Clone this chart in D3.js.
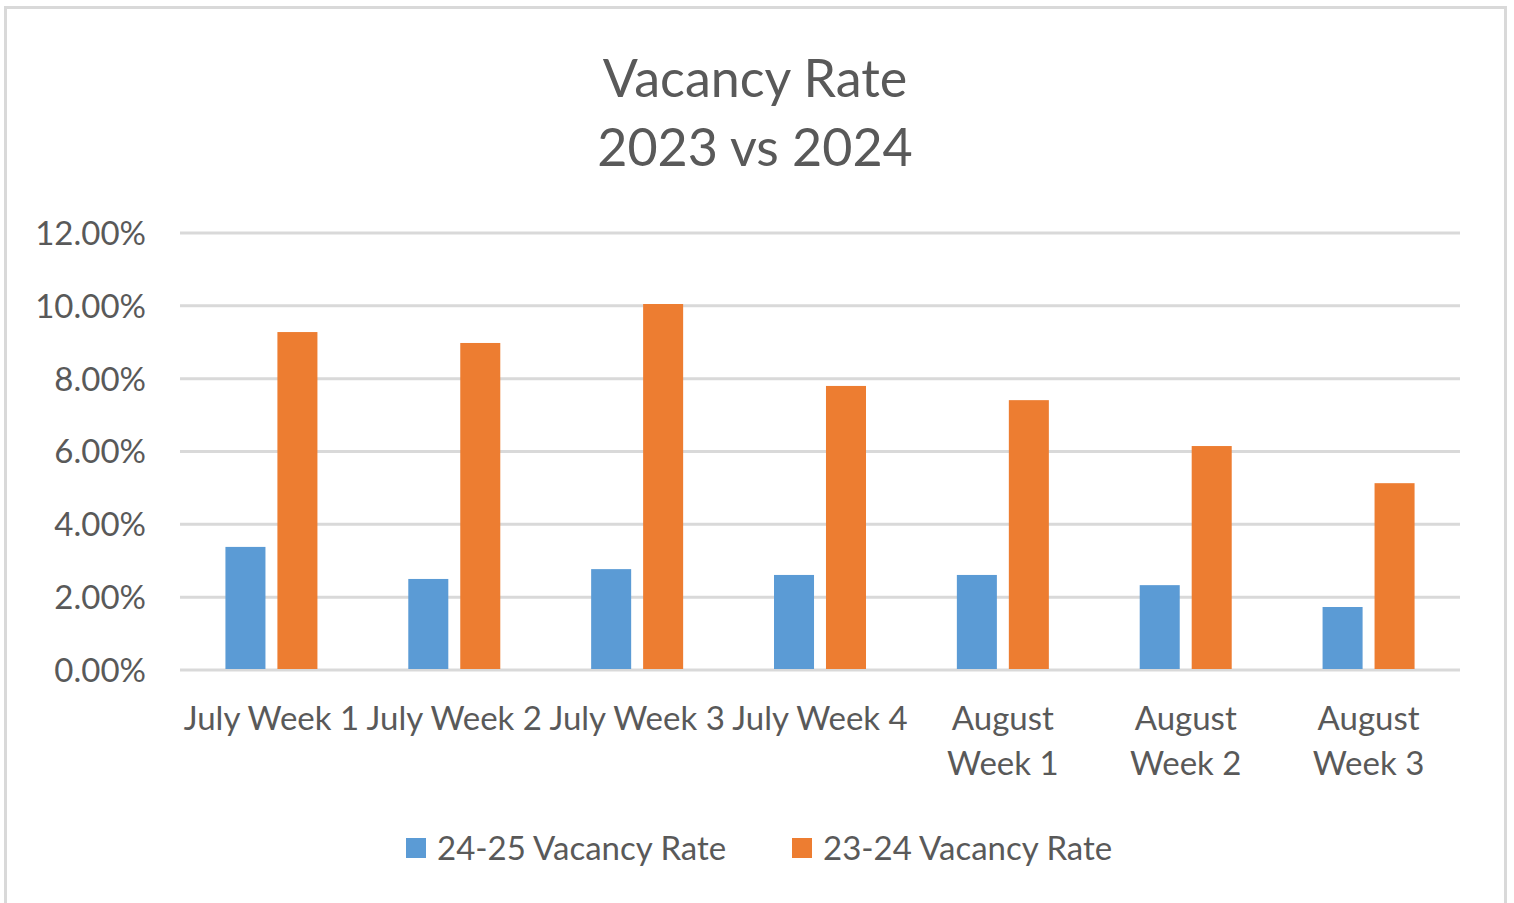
<!DOCTYPE html>
<html>
<head>
<meta charset="utf-8">
<script src="https://cdn.jsdelivr.net/npm/d3@7"></script>
<style>
  html, body { margin: 0; padding: 0; background: #fff; }
  svg { display: block; font-family: Lato, "Open Sans", sans-serif; }
</style>
</head>
<body>
<svg id="chart" width="1514" height="903"></svg>
<script>
// chart data
const categories = ["July Week 1", "July Week 2", "July Week 3", "July Week 4",
                    "August Week 1", "August Week 2", "August Week 3"];
const seriesNames = ["24-25 Vacancy Rate", "23-24 Vacancy Rate"];
const rate2425 = [0.0338, 0.0250, 0.0277, 0.0261, 0.0261, 0.0233, 0.0173];
const rate2324 = [0.0928, 0.0898, 0.1005, 0.0780, 0.0741, 0.0615, 0.0513];
const yTicks = [0, 0.02, 0.04, 0.06, 0.08, 0.10, 0.12];
const colors = ["#5b9bd5", "#ed7d31"];

const svg = d3.select("#chart");
const textColor = "#595959";

// outer chart border
svg.append("rect")
    .attr("x", 5.5).attr("y", 7.5)
    .attr("width", 1500).attr("height", 905)
    .attr("fill", "#fff")
    .attr("stroke", "#d9d9d9")
    .attr("stroke-width", 3);

// title
const title = svg.append("text")
    .attr("text-anchor", "middle")
    .attr("fill", textColor)
    .style("font-size", "52px");
title.append("tspan").attr("x", 755).attr("y", 97).text("Vacancy Rate");
title.append("tspan").attr("x", 755).attr("y", 166).text("2023 vs 2024");

const plot = { left: 180, right: 1460, top: 233, bottom: 670 };

const x0 = d3.scaleBand()
    .domain(categories)
    .range([plot.left, plot.right])
    .padding(0);

const x1 = d3.scaleBand()
    .domain(seriesNames)
    .range([x0.bandwidth() / 2 - 46, x0.bandwidth() / 2 + 46])
    .paddingInner(0.23);

const y = d3.scaleLinear()
    .domain([0, 0.12])
    .range([plot.bottom, plot.top]);

// gridlines
svg.append("g")
    .selectAll("line")
    .data(yTicks)
    .join("line")
    .attr("x1", plot.left).attr("x2", plot.right)
    .attr("y1", d => y(d)).attr("y2", d => y(d))
    .attr("stroke", "#d9d9d9")
    .attr("stroke-width", 3);

// y axis labels
svg.append("g")
    .selectAll("text")
    .data(yTicks)
    .join("text")
    .attr("x", 146)
    .attr("y", d => y(d))
    .attr("dy", "0.36em")
    .attr("text-anchor", "end")
    .attr("fill", textColor)
    .style("font-size", "33px")
    .text(d3.format(".2%"));

// bars
const rows = categories.map((c, i) => ({
    cat: c,
    values: [
        { key: seriesNames[0], value: rate2425[i] },
        { key: seriesNames[1], value: rate2324[i] }
    ]
}));

const color = d3.scaleOrdinal().domain(seriesNames).range(colors);

svg.append("g")
    .selectAll("g")
    .data(rows)
    .join("g")
    .attr("transform", d => `translate(${x0(d.cat)},0)`)
    .selectAll("rect")
    .data(d => d.values)
    .join("rect")
    .attr("x", d => x1(d.key))
    .attr("width", x1.bandwidth())
    .attr("y", d => y(d.value))
    .attr("height", d => y(0) - y(d.value) - 1)
    .attr("fill", d => color(d.key));

// x axis labels (long ones wrap to two lines, like the original)
const xLabels = svg.append("g")
    .selectAll("text")
    .data(categories)
    .join("text")
    .attr("text-anchor", "middle")
    .attr("fill", textColor)
    .style("font-size", "33px");

xLabels.each(function (d) {
    const t = d3.select(this);
    const cx = x0(d) + x0.bandwidth() / 2;
    if (d.length > 11) {
        const cut = d.lastIndexOf(" Week");
        t.append("tspan").attr("x", cx).attr("y", 730).text(d.slice(0, cut));
        t.append("tspan").attr("x", cx).attr("y", 775).text(d.slice(cut + 1));
    } else {
        t.append("tspan").attr("x", cx).attr("y", 730).text(d);
    }
});

// legend
const legendX = [406, 792];
const legend = svg.append("g")
    .selectAll("g")
    .data(seriesNames)
    .join("g")
    .attr("transform", (d, i) => `translate(${legendX[i]},838)`);

legend.append("rect")
    .attr("width", 20).attr("height", 20)
    .attr("fill", d => color(d));

legend.append("text")
    .attr("x", 31)
    .attr("y", 10)
    .attr("dy", "0.36em")
    .attr("fill", textColor)
    .style("font-size", "33px")
    .text(d => d);
</script>
</body>
</html>
